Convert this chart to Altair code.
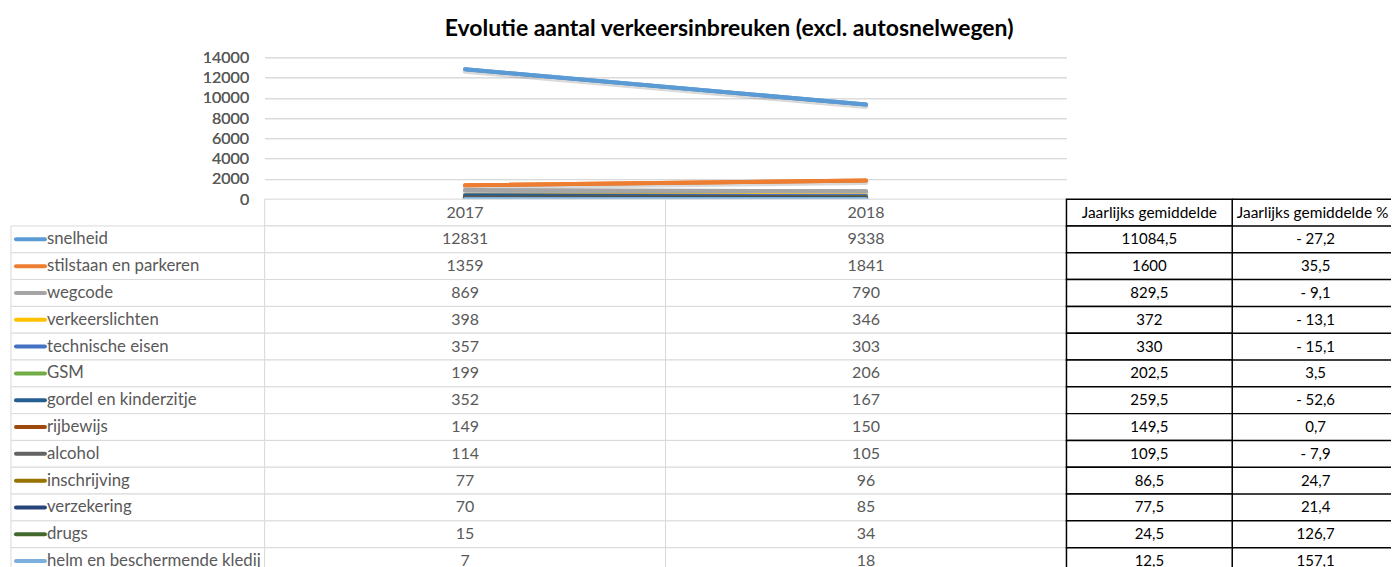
import altair as alt
import pandas as pd

title_text = "Evolutie aantal verkeersinbreuken (excl. autosnelwegen)"
years = ["2017", "2018"]
categories = ["snelheid", "stilstaan en parkeren", "wegcode", "verkeerslichten",
              "technische eisen", "GSM", "gordel en kinderzitje", "rijbewijs",
              "alcohol", "inschrijving", "verzekering", "drugs",
              "helm en beschermende kledij"]
values_2017 = [12831, 1359, 869, 398, 357, 199, 352, 149, 114, 77, 70, 15, 7]
values_2018 = [9338, 1841, 790, 346, 303, 206, 167, 150, 105, 96, 85, 34, 18]
avg_labels = ["11084,5", "1600", "829,5", "372", "330", "202,5", "259,5",
              "149,5", "109,5", "86,5", "77,5", "24,5", "12,5"]
pct_labels = ["- 27,2", "35,5", "- 9,1", "- 13,1", "- 15,1", "3,5", "- 52,6",
              "0,7", "- 7,9", "24,7", "21,4", "126,7", "157,1"]
extra_headers = ["Jaarlijks gemiddelde", "Jaarlijks gemiddelde %"]
y_ticks = [0, 2000, 4000, 6000, 8000, 10000, 12000, 14000]
colors = ["#5B9BD5", "#ED7D31", "#A5A5A5", "#FFC000", "#4472C4", "#70AD47",
          "#255E91", "#9E480E", "#636363", "#997300", "#264478", "#43682B",
          "#7CAFDD"]

FONT = "Lato"
GREY_TXT = "#595959"
GRID = "#d9d9d9"
N_ROWS = len(categories) + 1
ROW_H = 26.85
TAB_H = N_ROWS * ROW_H
ROW_DOMAIN = list(range(N_ROWS))
W_LAB, W_YEARS, W_EXT1, W_EXT2, H_TOP = 254, 803, 166, 159, 142
Y_MAX = 14000
SHADOW_SHIFT = 2 * Y_MAX / H_TOP  # value span of a 2px drop shadow

# ---- line chart ----
long_rows = []
for i, c in enumerate(categories):
    long_rows.append({"cat": c, "year": years[0], "value": values_2017[i], "idx": i})
    long_rows.append({"cat": c, "year": years[1], "value": values_2018[i], "idx": i})
long_df = pd.DataFrame(long_rows)

x_year = alt.X("year:O", axis=None, scale=alt.Scale(type="point", padding=0.5, domain=years))

line = alt.Chart(long_df).mark_line(strokeWidth=4, strokeCap="round").encode(
    x=x_year,
    y=alt.Y("value:Q", scale=alt.Scale(domain=[0, Y_MAX]),
            axis=alt.Axis(orient="left", values=y_ticks, format="d", title=None, grid=True,
                          gridColor=GRID, domain=False, ticks=False, labelFontSize=16,
                          labelColor=GREY_TXT, labelPadding=16, labelFont=FONT)),
    color=alt.Color("cat:N", scale=alt.Scale(domain=categories, range=colors), legend=None),
    order=alt.Order("idx:Q"),
)

shadow = alt.Chart(long_df).mark_line(strokeWidth=5, strokeCap="round", color="black",
                                      strokeOpacity=0.15).encode(
    x=x_year,
    y=alt.Y("value:Q", axis=None,
            scale=alt.Scale(domain=[SHADOW_SHIFT, Y_MAX + SHADOW_SHIFT])),
    detail="cat:N",
)

line_chart = alt.layer(line, shadow, line).resolve_scale(y="independent").properties(
    width=W_YEARS, height=H_TOP)


def blank(w, h):
    return alt.Chart(pd.DataFrame({"a": [0]})).mark_point(opacity=0).encode(
        x=alt.X("a:Q", axis=None), y=alt.Y("a:Q", axis=None)
    ).properties(width=w, height=h)


# ---- tables ----
def row_y(**kw):
    return alt.Y("row:O", axis=None,
                 scale=alt.Scale(domain=ROW_DOMAIN, paddingInner=0, paddingOuter=0), **kw)

# label column
lab_df = pd.DataFrame({"row": list(range(1, N_ROWS)), "col": "label",
                       "text": categories, "cat": categories})
lab_x = alt.X("col:N", axis=None, scale=alt.Scale(paddingInner=0, paddingOuter=0))
lab_rect = alt.Chart(lab_df).mark_rect(fill="white", stroke=GRID, strokeWidth=1).encode(
    x=lab_x, y=row_y())
lab_key = alt.Chart(lab_df).mark_rule(strokeWidth=4, strokeCap="round").encode(
    x=alt.value(5), x2=alt.value(34),
    y=row_y(bandPosition=0.5),
    color=alt.Color("cat:N", scale=alt.Scale(domain=categories, range=colors), legend=None))
lab_text = alt.Chart(lab_df).mark_text(align="left", baseline="middle", dx=36,
                                       font=FONT, fontSize=16.8, color=GREY_TXT).encode(
    x=alt.X("col:N", axis=None, bandPosition=0, scale=alt.Scale(paddingInner=0, paddingOuter=0)),
    y=row_y(), text="text:N")
label_tab = alt.layer(lab_rect, lab_key, lab_text).properties(width=W_LAB, height=TAB_H)

# year table
yt = []
for y in years:
    yt.append({"row": 0, "col": y, "text": y})
for i in range(len(categories)):
    yt.append({"row": i + 1, "col": years[0], "text": str(values_2017[i])})
    yt.append({"row": i + 1, "col": years[1], "text": str(values_2018[i])})
yt_df = pd.DataFrame(yt)
yx = alt.X("col:N", axis=None, scale=alt.Scale(domain=years, paddingInner=0, paddingOuter=0))
year_rect = alt.Chart(yt_df).mark_rect(fill="white", stroke=GRID, strokeWidth=1).encode(
    x=yx, y=row_y())
year_text = alt.Chart(yt_df).mark_text(baseline="middle", font=FONT, fontSize=16,
                                       color=GREY_TXT).encode(x=yx, y=row_y(), text="text:N")
year_tab = alt.layer(year_rect, year_text).properties(width=W_YEARS, height=TAB_H)

# extra table: column 1 (average)
e1_df = pd.DataFrame({"row": list(range(N_ROWS)), "col": extra_headers[0],
                      "text": [extra_headers[0]] + avg_labels,
                      "hdr": [1] + [0] * len(avg_labels)})
ex1 = alt.X("col:N", axis=None, scale=alt.Scale(paddingInner=0, paddingOuter=0))
e1_rect = alt.Chart(e1_df).mark_rect(fill="white", stroke="black", strokeWidth=1.5).encode(
    x=ex1, y=row_y())
e1_hdr = alt.Chart(e1_df).transform_filter("datum.hdr == 1").mark_text(
    baseline="middle", font=FONT, fontSize=15.5, color="black").encode(x=ex1, y=row_y(), text="text:N")
e1_val = alt.Chart(e1_df).transform_filter("datum.hdr == 0").mark_text(
    baseline="middle", font=FONT, fontSize=15, color="black").encode(x=ex1, y=row_y(), text="text:N")
ext1_tab = alt.layer(e1_rect, e1_hdr, e1_val).properties(width=W_EXT1, height=TAB_H)

# extra table: column 2 (percentage), open to the right edge
e2_df = pd.DataFrame({"row": list(range(N_ROWS)), "col": extra_headers[1],
                      "text": [extra_headers[1]] + pct_labels,
                      "hdr": [1] + [0] * len(pct_labels)})
ex2 = alt.X("col:N", axis=None, scale=alt.Scale(paddingInner=0, paddingOuter=0))
e2_rule = alt.Chart(e2_df).mark_rule(color="black", strokeWidth=1.5).encode(
    x=alt.value(0), x2=alt.value(W_EXT2), y=row_y(bandPosition=0))
e2_hdr = alt.Chart(e2_df).transform_filter("datum.hdr == 1").mark_text(
    baseline="middle", font=FONT, fontSize=15.5, color="black", dx=1).encode(x=ex2, y=row_y(), text="text:N")
e2_val = alt.Chart(e2_df).transform_filter("datum.hdr == 0").mark_text(
    baseline="middle", font=FONT, fontSize=15, color="black", dx=4).encode(x=ex2, y=row_y(), text="text:N")
ext2_tab = alt.layer(e2_rule, e2_hdr, e2_val).properties(width=W_EXT2, height=TAB_H)

chart = alt.concat(
    blank(W_LAB, H_TOP), line_chart, blank(W_EXT1, H_TOP), blank(W_EXT2, H_TOP),
    label_tab, year_tab, ext1_tab, ext2_tab,
    columns=4, spacing=0, bounds="flush",
    title=alt.Title(title_text, font=FONT, fontSize=23, fontWeight="bold",
                    color="black", anchor="middle", dx=28, offset=8),
).configure_view(stroke=None).properties(
    padding={"left": 2, "top": 10, "right": 0, "bottom": 0})

chart.save("out.html", embed_options={"renderer": "svg", "actions": False})
